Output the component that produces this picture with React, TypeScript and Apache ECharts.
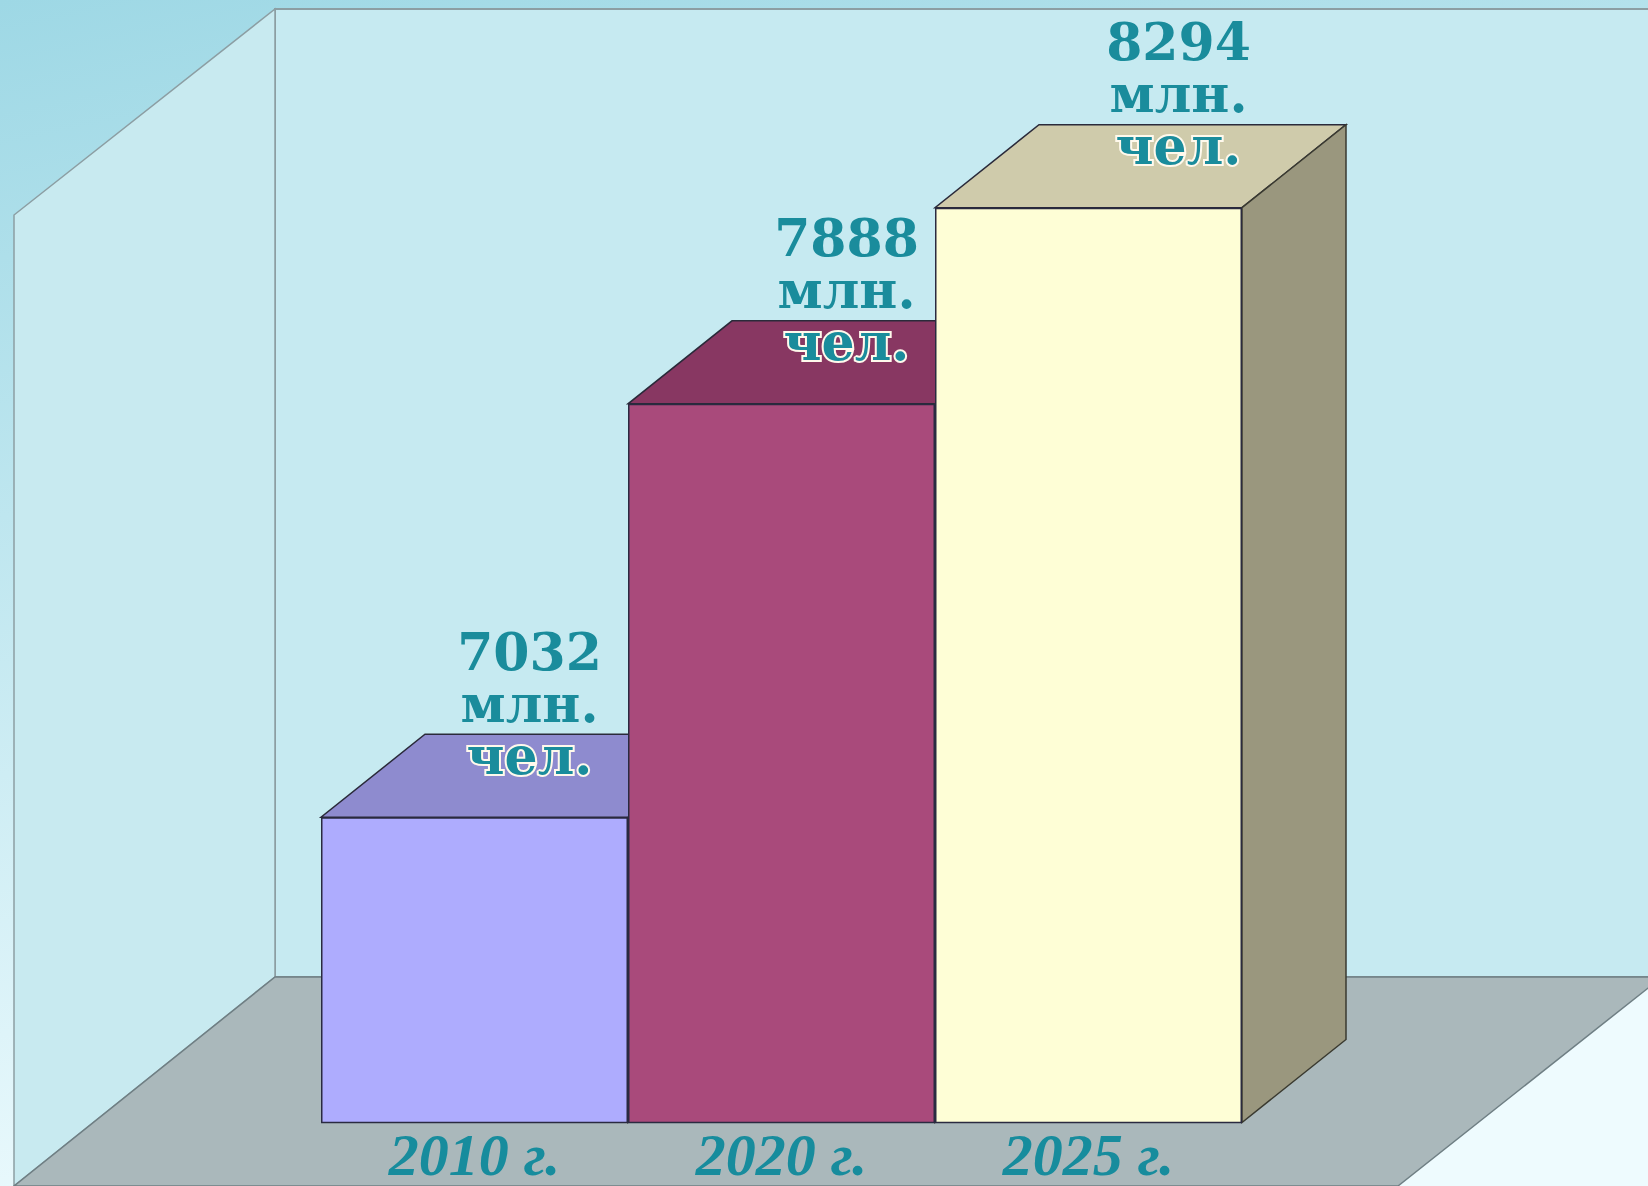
import React, { useEffect, useRef } from "react";
import * as echarts from "echarts";

// ---- data ----
const CATEGORIES = ["2010 г.", "2020 г.", "2025 г."];
const VALUES = [7032, 7888, 8294];
const UNIT_LINE_1 = "млн.";
const UNIT_LINE_2 = "чел.";
const Y_MIN = 6400;
const Y_MAX = 8400;

// ---- styles ----
const FRONT_COLORS = ["#aeacfe", "#a94a7b", "#fefed6"];
const TOP_COLORS = ["#8e8bcf", "#883762", "#cfcbab"];
const SIDE_COLORS = ["#75729f", "#6e2c4f", "#9a977e"];
const LABEL_NUDGE_X = [55, 65, 90];

const W = 1648;
const H = 1186;
const DX = 104;
const DY = -83;
const TEAL = "#1a8c9c";

export default function App() {
  const ref = useRef<HTMLDivElement>(null);

  useEffect(() => {
    document.body.style.margin = "0";
    const chart = echarts.init(ref.current as HTMLDivElement, undefined, { renderer: "svg" });

    const valueRich = {
      fontFamily: "DejaVu Serif",
      fontWeight: "bold" as const,
      fontSize: 52,
      color: TEAL,
      lineHeight: 52,
    };

    const option: any = {
      animation: false,
      backgroundColor: "transparent",
      graphic: [
        {
          type: "rect",
          z: -10,
          silent: true,
          shape: { x: 0, y: 0, width: W, height: H },
          style: {
            fill: new echarts.graphic.LinearGradient(0, 0, 0.3, 1, [
              { offset: 0, color: "#9ed8e5" },
              { offset: 1, color: "#eefbfe" },
            ]),
          },
        },
        {
          type: "rect",
          z: -9,
          silent: true,
          shape: { x: 275, y: 9, width: W - 275 + 10, height: 977 - 9 },
          style: { fill: "#c6eaf1", stroke: "#8c9ea3", lineWidth: 2 },
        },
        {
          type: "polygon",
          z: -8,
          silent: true,
          shape: { points: [[14, 215], [275, 9], [275, 977], [14, 1186]] },
          style: { fill: "#c8eaf0", stroke: "#8c9ea3", lineWidth: 1.5 },
        },
        {
          type: "polygon",
          z: -7,
          silent: true,
          shape: { points: [[275, 977], [1662, 977], [1398, 1186], [14, 1186]] },
          style: { fill: "#aab8bb", stroke: "#6f7f84", lineWidth: 1.5 },
        },
      ],
      grid: { left: 321, right: W - 1242, top: 156.5, bottom: 63.5, containLabel: false },
      xAxis: {
        type: "category",
        data: CATEGORIES,
        axisLine: { show: false },
        axisTick: { show: false },
        splitLine: { show: false },
        axisLabel: {
          margin: 4,
          fontFamily: "Liberation Serif",
          fontStyle: "italic",
          fontWeight: "bold",
          fontSize: 60,
          lineHeight: 56,
          color: "#178c9d",
        },
      },
      yAxis: {
        type: "value",
        min: Y_MIN,
        max: Y_MAX,
        show: false,
        splitLine: { show: false },
      },
      series: [
        {
          type: "custom",
          z: 2,
          silent: true,
          encode: { x: 0, y: 1 },
          data: VALUES.map((v, i) => [i, v]),
          renderItem: (params: any, api: any) => {
            const idx = api.value(0);
            const val = api.value(1);
            const top = api.coord([idx, val]);
            const base = api.coord([idx, Y_MIN]);
            const bw = api.size([1, 0])[0];
            const x0 = top[0] - bw / 2;
            const x1 = top[0] + bw / 2;
            const yt = top[1];
            const yb = base[1];
            return {
              type: "group",
              children: [
                {
                  type: "polygon",
                  shape: { points: [[x0, yt], [x1, yt], [x1 + DX, yt + DY], [x0 + DX, yt + DY]] },
                  style: { fill: TOP_COLORS[idx], stroke: "#2a2a3a", lineWidth: 1.5 },
                },
                {
                  type: "polygon",
                  shape: { points: [[x1, yt], [x1 + DX, yt + DY], [x1 + DX, yb + DY], [x1, yb]] },
                  style: { fill: SIDE_COLORS[idx], stroke: "#3a3a30", lineWidth: 1.5 },
                },
              ],
            };
          },
        },
        {
          type: "bar",
          z: 3,
          barWidth: "100%",
          data: VALUES.map((v, i) => ({
            value: v,
            itemStyle: { color: FRONT_COLORS[i] },
            label: { offset: [LABEL_NUDGE_X[i], 0] },
          })),
          itemStyle: { borderColor: "#2a2a40", borderWidth: 1.5 },
          label: {
            show: true,
            position: "top",
            distance: 36,
            formatter: (p: any) => `{v|${p.value}}\n{u|${UNIT_LINE_1}}\n{c|${UNIT_LINE_2}}`,
            rich: {
              v: valueRich,
              u: valueRich,
              c: { ...valueRich, textBorderColor: "#fff9ec", textBorderWidth: 4 },
            },
          },
        },
      ],
    };

    chart.setOption(option);
    return () => chart.dispose();
  }, []);

  return <div ref={ref} style={{ width: W, height: H, overflow: "hidden" }} />;
}
